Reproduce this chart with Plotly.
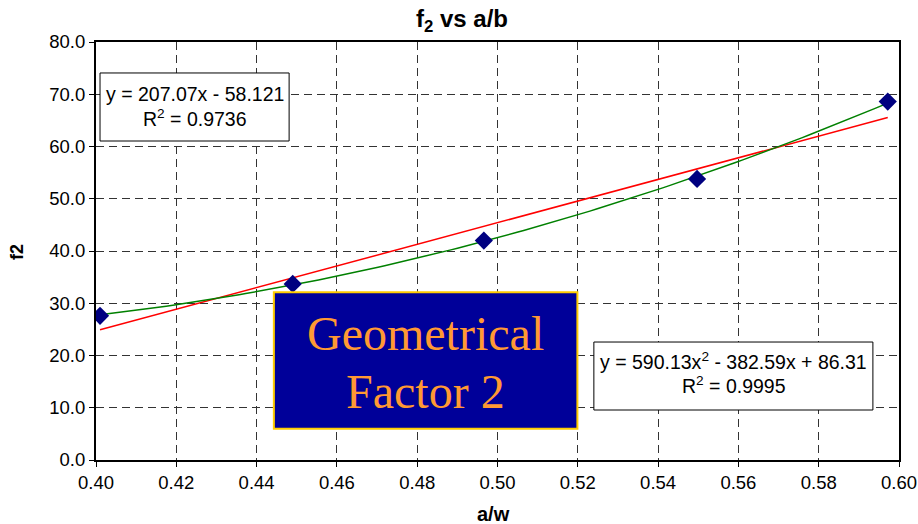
import numpy as np
import plotly.graph_objects as go

# ---- data ----
a_w = [0.401, 0.449, 0.4966, 0.5497, 0.5972]
f2 = [27.6, 33.7, 42.0, 53.8, 68.6]

lin_coef = [207.07, -58.121]            # y = 207.07x - 58.121
quad_coef = [590.13, -382.59, 86.31]    # y = 590.13x^2 - 382.59x + 86.31

x_ticks = [0.40, 0.42, 0.44, 0.46, 0.48, 0.50, 0.52, 0.54, 0.56, 0.58, 0.60]
y_ticks = [0, 10, 20, 30, 40, 50, 60, 70, 80]

lin_label = ["y = 207.07x - 58.121", "R<sup>2</sup> = 0.9736"]
quad_label = ["y = 590.13x<sup>2</sup> - 382.59x + 86.31", "R<sup>2</sup> = 0.9995"]
box_label = ["Geometrical", "Factor 2"]

# trendlines evaluated over the data range
xt = np.linspace(min(a_w), max(a_w), 120)
y_lin = np.polyval(lin_coef, xt)
y_quad = np.polyval(quad_coef, xt)

FONT = "Liberation Sans, Arial, sans-serif"

# plot-area pixel geometry (for placing titles)
L, R, T, B = 96, 19, 42, 64
PW, PH = 918 - L - R, 524 - T - B


def px_to_paper(px, py):
    return (px - L) / PW, (524 - B - py) / PH


fig = go.Figure()
fig.add_trace(go.Scatter(x=xt, y=y_lin, mode="lines",
                         line=dict(color="#FF0000", width=1.5), hoverinfo="skip"))
fig.add_trace(go.Scatter(x=xt, y=y_quad, mode="lines",
                         line=dict(color="#008000", width=1.5), hoverinfo="skip"))
fig.add_trace(go.Scatter(x=a_w, y=f2, mode="markers",
                         marker=dict(symbol="diamond", size=14, color="#000080")))

axis_common = dict(
    showline=True, linecolor="black", linewidth=2, mirror=True,
    ticks="outside", ticklen=5, tickcolor="black", tickwidth=1,
    showgrid=True, gridcolor="#333333", gridwidth=1, griddash="8px,5px",
    zeroline=False, tickfont=dict(family=FONT, size=18.5, color="black"),
    automargin=False,
)

fig.update_xaxes(range=[0.40, 0.60], tickvals=x_ticks,
                 ticktext=[f"{v:.2f}" for v in x_ticks], **axis_common)
fig.update_yaxes(range=[0, 80], tickvals=y_ticks,
                 ticktext=[f"{v:.1f}" for v in y_ticks], **axis_common)

shapes = [
    dict(type="rect", xref="x", yref="y", x0=0.401, x1=0.4481, y0=61.05, y1=74.07,
         line=dict(color="black", width=1), fillcolor="white", layer="above"),
    dict(type="rect", xref="x", yref="y", x0=0.524, x1=0.5935, y0=9.57, y1=22.58,
         line=dict(color="black", width=1), fillcolor="white", layer="above"),
    dict(type="rect", xref="x", yref="y", x0=0.4443, x1=0.5199, y0=6.0, y1=32.1,
         line=dict(color="#FFCC00", width=2), fillcolor="#000099", layer="above"),
]

ann = []
for txt, yy in zip(lin_label, [70.05, 65.45]):
    ann.append(dict(x=0.4246, y=yy, xref="x", yref="y", text=txt, showarrow=False,
                    font=dict(family=FONT, size=19.5, color="black"),
                    xanchor="center", yanchor="middle"))
for txt, yy in zip(quad_label, [19.0, 14.35]):
    ann.append(dict(x=0.5588, y=yy, xref="x", yref="y", text=txt, showarrow=False,
                    font=dict(family=FONT, size=19.5, color="black"),
                    xanchor="center", yanchor="middle"))
for txt, yy in zip(box_label, [24.3, 13.2]):
    ann.append(dict(x=0.4821, y=yy, xref="x", yref="y", text=txt, showarrow=False,
                    font=dict(family="Liberation Serif, Times New Roman, serif", size=48,
                              color="#FF9933"),
                    xanchor="center", yanchor="middle"))

# axis titles
ax, ay = px_to_paper(493, 514)
ann.append(dict(x=ax, y=ay, xref="paper", yref="paper",
                text="<b>a/w</b>", showarrow=False,
                font=dict(family=FONT, size=20, color="black"),
                xanchor="center", yanchor="middle"))
fx, fy = px_to_paper(17, 252)
ann.append(dict(x=fx, y=fy, xref="paper", yref="paper",
                text="<b>f2</b>", showarrow=False, textangle=-90,
                font=dict(family=FONT, size=18, color="black"),
                xanchor="center", yanchor="middle"))

fig.update_layout(
    width=918, height=524,
    margin=dict(l=L, r=R, t=T, b=B),
    paper_bgcolor="white", plot_bgcolor="white",
    showlegend=False,
    title=dict(text="<b>f<sub>2</sub> vs a/b</b>", x=462 / 918, xref="container",
               xanchor="center", y=1 - 19 / 524, yref="container", yanchor="middle",
               font=dict(family=FONT, size=24, color="black")),
    shapes=shapes, annotations=ann,
)

fig.write_html("out.html")
